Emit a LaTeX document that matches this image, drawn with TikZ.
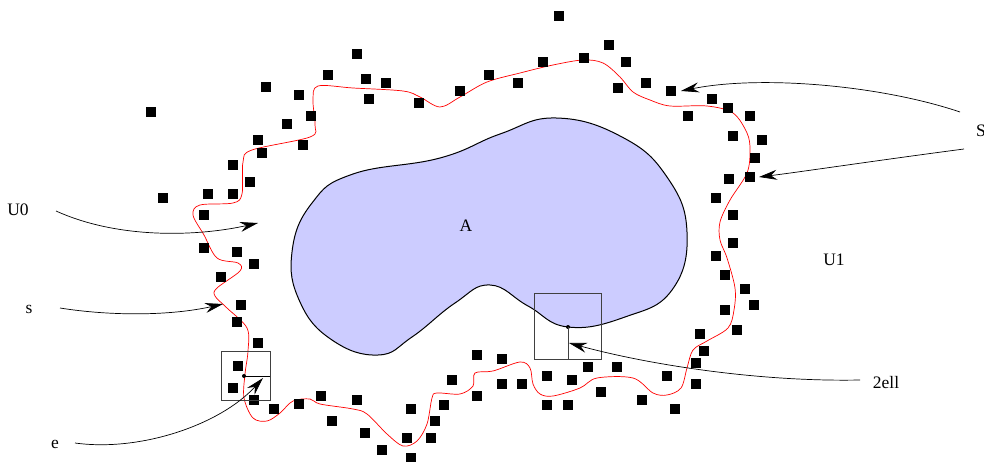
\documentclass[tikz,border=0pt]{standalone}
\usepackage{fontspec}
\setmainfont{Liberation Serif}
\usetikzlibrary{arrows.meta}
\definecolor{blobfill}{RGB}{204,204,255}
\begin{document}
\begin{tikzpicture}[x=1pt,y=-1pt,
  dot/.style={fill=black,minimum size=9.5pt,inner sep=0pt,outer sep=0pt,draw=none},
  lbl/.style={inner sep=0pt,font=\fontsize{17.5}{20}\selectfont,anchor=base},
  ptr/.style={line width=0.7pt,-{Stealth[length=18pt,width=10pt,inset=6pt]}},
  frame/.style={draw=black!75,line width=0.8pt},
  pin/.style={circle,fill=black,inner sep=0pt,minimum size=4pt}]
\useasboundingbox (0,0) rectangle (984,462);
% region A
\draw[fill=blobfill,line width=1pt] plot[smooth cycle,tension=0.75] coordinates {
 (292,252) (312,203) (353,174) (440,158) (500,134) (556,118) (622,137) (667,177)
 (687,232) (672,290) (625,317) (568,327) (528,306) (490,285) (455,303) (412,337)
 (378,355) (332,340) (300,302) };
% red boundary
\draw[red,line width=0.7pt] plot[smooth cycle,tension=0.55] coordinates {
 (318,86) (353,88) (403,91) (420,97) (440,107) (460,97) (487,82) (520,73) (553,65)
 (583,60) (603,63) (620,77) (633,92) (650,100) (670,106) (707,106) (733,113)
 (747,133) (750,150) (747,173) (730,200) (720,222) (720,240) (727,258) (735,288)
 (734,310) (728,328) (707,341) (693,350) (687,368) (681,388) (667,395) (653,393)
 (633,378) (597,378) (580,388) (553,396) (540,394) (533,384) (530,368) (520,362)
 (493,371) (475,373) (473,386) (460,394) (437,393) (432,398) (427,424) (417,441)
 (403,446) (387,434) (367,414) (353,409) (320,404) (310,399) (293,401) (280,413)
 (267,421) (253,418) (244,398) (245,374) (248,351) (247,328) (227,308) (215,296)
 (217,288) (240,271) (238,263) (217,258) (204,235) (193,215) (200,205) (233,203)
 (242,194) (243,162) (252,150) (310,137) (315,125) (313,100) };
% squares
\foreach \p [count=\i] in {
 (559,16),(357,54),(328,75),(366,79),(386,83),(369,99),(419,103),(460,91),(489,75),
 (518,83),(543,62),(584,58),(609,45),(626,62),(618,88),(646,83),(671,91),(712,99),
 (728,108),(688,116),(750,116),(733,136),(762,140),(755,158),(729,179),(750,177),
 (716,198),(733,215),(733,243),(716,256),(725,275),(745,289),(754,305),(725,310),
 (737,330),(700,334),(704,351),(696,363),(667,376),(696,384),(642,400),(675,409),
 (601,392),(617,367),(588,367),(572,380),(568,405),(547,405),(547,376),(522,384),
 (502,384),(502,359),(477,355),(477,396),(452,380),(444,405),(435,421),(431,438),
 (411,458),(407,438),(411,409),(382,450),(365,433),(332,421),(357,400),(321,396),
 (299,404),(274,409),(254,400),(233,388),(238,366),(258,343),(237,322),(241,305),
 (221,277),(254,264),(237,252),(204,248),(204,215),(233,194),(208,194),(163,198),
 (250,182),(233,165),(262,153),(303,145),(258,140),(287,124),(311,116),(299,95),
 (266,87),(151,112)}
  \node[dot] (q\i) at \p {};
% boxes
\draw[frame] (221,351) rectangle (270,400);
\node[pin] (pe) at (244,376) {};
\coordinate (pe2) at (270,376);
\draw[line width=0.8pt] (pe.center) -- (pe2);
\draw[frame] (534,293) rectangle (601,359);
\node[pin] (pl) at (568,327) {};
\coordinate (pl2) at (568,359);
\draw[frame] (pl.center) -- (pl2);
% labels
\node[lbl] (U0) at (18,215) {U0};
\node[lbl] (s) at (29,313) {s};
\node[lbl] (e) at (55,448) {e};
\node[lbl] (U1) at (834,265) {U1};
\node[lbl] (ell) at (886,388) {2ell};
\node[lbl] (A) at (466,232) {A};
\node[lbl,anchor=base west] (S) at (976,137) {S};
% arrow ends
\coordinate (u0a) at (56,211);   \coordinate (u0b) at (258,223);
\coordinate (sa) at (60,308);    \coordinate (sb) at (223,304);
\coordinate (ea) at (75,443);    \coordinate (eb) at (263,378);
\coordinate (la) at (860,380);   \coordinate (lb) at (569,343);
\coordinate (Sa) at (960,112);   \coordinate (Sb) at (681,91);
\coordinate (Sc) at (964,149);   \coordinate (Sd) at (759,177);
\draw[ptr] (u0a) .. controls (120,240) and (200,236) .. (u0b);
\draw[ptr] (sa) .. controls (110,316) and (170,316) .. (sb);
\draw[ptr] (ea) .. controls (140,452) and (220,425) .. (eb);
\draw[ptr] (la) .. controls (760,382) and (650,365) .. (lb);
\draw[ptr] (Sa) .. controls (880,85) and (760,75) .. (Sb);
\draw[ptr] (Sc) .. controls (880,160) and (800,172) .. (Sd);
\end{tikzpicture}
\end{document}
